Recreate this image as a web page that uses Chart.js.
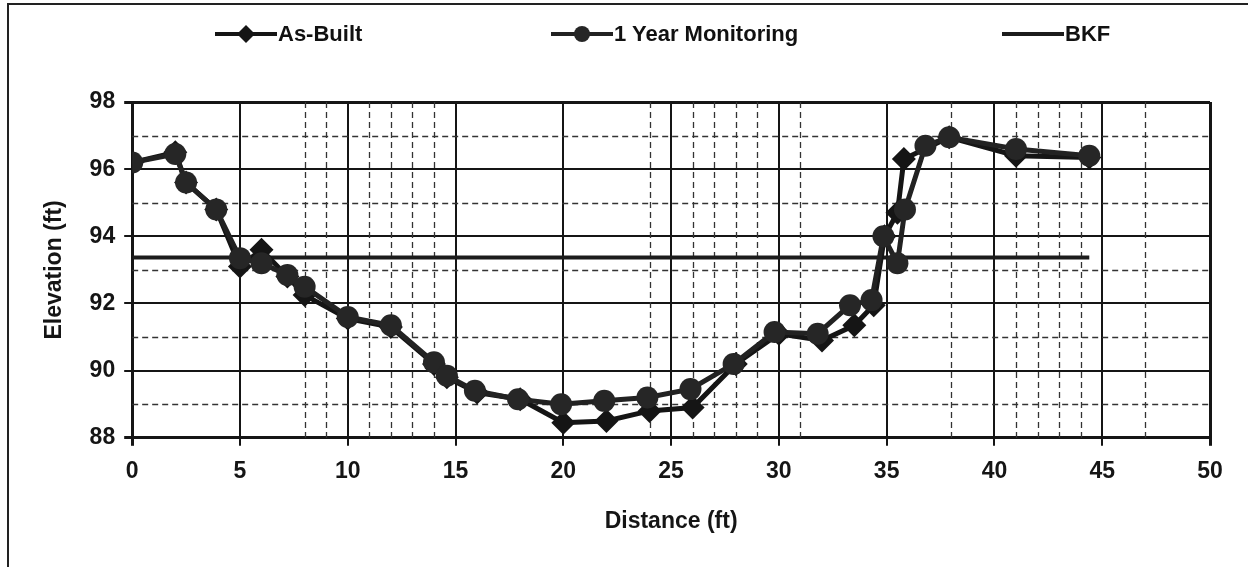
<!DOCTYPE html>
<html>
<head>
<meta charset="utf-8">
<script src="https://cdn.jsdelivr.net/npm/chart.js@4.4.0/dist/chart.umd.min.js"></script>
<style>
  body { margin: 0; background: #fff; overflow: hidden; }
  #frame { position: absolute; left: 7px; top: 3px; width: 1241px; height: 600px;
           border-left: 2px solid #222; border-top: 2px solid #222; }
  #chart { position: absolute; left: 0; top: 0; }
  .item { position: absolute; top: 16px; display: flex; align-items: center;
          font: bold 22px "Liberation Sans", Arial, sans-serif; color: #111; }
  .item svg { margin-right: 1px; }
</style>
</head>
<body>
<div id="frame">
  <canvas id="chart" width="1236" height="562"></canvas>
  <div id="legend"></div>
</div>
<script>
// cross-section survey, distance (ft) vs elevation (ft)
const asBuiltX = [0, 2, 2.5, 3.9, 5, 6, 7.2, 8, 10, 12, 14, 14.6, 16, 18, 20, 22, 24, 26, 28, 30, 32, 33.5, 34.4, 34.9, 35.5, 35.8, 37.9, 41, 44.4];
const asBuiltY = [96.2, 96.5, 95.6, 94.8, 93.1, 93.6, 92.8, 92.25, 91.55, 91.3, 90.2, 89.8, 89.35, 89.15, 88.45, 88.5, 88.8, 88.9, 90.2, 91.1, 90.9, 91.35, 91.95, 94.0, 94.7, 96.3, 96.95, 96.4, 96.35];

const monitorX = [0, 2, 2.5, 3.9, 5, 6, 7.2, 8, 10, 12, 14, 14.6, 15.9, 17.9, 19.9, 21.9, 23.9, 25.9, 27.9, 29.8, 31.8, 33.3, 34.3, 34.85, 35.5, 35.85, 36.8, 37.9, 41, 44.4];
const monitorY = [96.2, 96.45, 95.6, 94.8, 93.35, 93.2, 92.85, 92.5, 91.6, 91.35, 90.25, 89.85, 89.4, 89.15, 89.0, 89.1, 89.2, 89.45, 90.2, 91.15, 91.1, 91.95, 92.1, 94.0, 93.2, 94.8, 96.7, 96.95, 96.6, 96.4];

const bkfX = [0, 44.4];
const bkfY = [93.37, 93.37];

const xMin = 0, xMax = 50, xStep = 5;
const yMin = 88, yMax = 98, yStep = 2;
// dashed minor verticals that show in the scan
const minorGridX = [8, 9, 11, 12, 13, 14, 24, 26, 27, 28, 29, 31, 38, 41, 42, 43, 44, 47];

const FONT = '"Liberation Sans", Arial, sans-serif';
const INK = '#151515';

function pts(xs, ys) {
  return xs.map((x, i) => ({ x: x, y: ys[i] }));
}

const minorGrid = {
  id: 'minorGrid',
  beforeDatasetsDraw(chart) {
    const { ctx, chartArea: a, scales: { x, y } } = chart;
    ctx.save();
    ctx.strokeStyle = '#333';
    ctx.lineWidth = 1.3;
    ctx.setLineDash([6, 4]);
    ctx.beginPath();
    minorGridX.forEach(v => {
      const px = Math.round(x.getPixelForValue(v)) + 0.5;
      ctx.moveTo(px, a.top);
      ctx.lineTo(px, a.bottom);
    });
    for (let v = yMin + yStep / 2; v < yMax; v += yStep) {
      const py = Math.round(y.getPixelForValue(v)) + 0.5;
      ctx.moveTo(a.left, py);
      ctx.lineTo(a.right, py);
    }
    ctx.stroke();
    ctx.restore();
  }
};

const edgeWidth = (lo, hi) => c => (c.tick && (c.tick.value === lo || c.tick.value === hi)) ? 3 : 2;

const chart = new Chart(document.getElementById('chart'), {
  type: 'line',
  data: {
    datasets: [
      { label: 'As-Built', data: pts(asBuiltX, asBuiltY), borderColor: INK, backgroundColor: INK,
        borderWidth: 5, pointStyle: 'rectRot', pointRadius: 12, pointBorderWidth: 0, order: 2 },
      { label: '1 Year Monitoring', data: pts(monitorX, monitorY), borderColor: '#222', backgroundColor: '#262626',
        borderWidth: 5, pointStyle: 'circle', pointRadius: 11, pointBorderWidth: 0, order: 1 },
      { label: 'BKF', data: pts(bkfX, bkfY), borderColor: '#1c1c1c', borderWidth: 4, pointRadius: 0, order: 3 }
    ]
  },
  options: {
    responsive: false,
    animation: false,
    devicePixelRatio: 1,
    layout: { padding: { top: 97, left: 28, right: 35, bottom: 28 } },
    plugins: { legend: { display: false }, tooltip: { enabled: false } },
    scales: {
      x: {
        type: 'linear', min: xMin, max: xMax,
        ticks: { stepSize: xStep, padding: 12, color: INK, font: { family: FONT, size: 23, weight: 'bold' } },
        grid: { color: INK, lineWidth: edgeWidth(xMin, xMax), tickLength: 8, tickColor: INK },
        border: { color: INK, width: 3 },
        title: { display: true, text: 'Distance (ft)', color: INK, padding: { top: 10, bottom: 4 },
                 font: { family: FONT, size: 23, weight: 'bold' } }
      },
      y: {
        min: yMin, max: yMax,
        ticks: { stepSize: yStep, padding: 9, color: INK, font: { family: FONT, size: 23, weight: 'bold' } },
        grid: { color: INK, lineWidth: edgeWidth(yMin, yMax), tickLength: 8, tickColor: INK },
        border: { color: INK, width: 3 },
        title: { display: true, text: 'Elevation (ft)', color: INK, padding: { top: 4, bottom: 12 },
                 font: { family: FONT, size: 23, weight: 'bold' } }
      }
    }
  },
  plugins: [minorGrid]
});

// legend: line sample with the series marker, then the label
const legendLeft = [206, 542, 993];
const legend = document.getElementById('legend');
chart.data.datasets.forEach((ds, i) => {
  let mark = '';
  if (ds.pointStyle === 'rectRot') mark = '<polygon points="22,11 31,2 40,11 31,20" fill="' + ds.backgroundColor + '"/>';
  if (ds.pointStyle === 'circle') mark = '<circle cx="31" cy="11" r="8" fill="' + ds.backgroundColor + '"/>';
  const el = document.createElement('div');
  el.className = 'item';
  el.style.left = legendLeft[i] + 'px';
  el.innerHTML = '<svg width="62" height="22"><line x1="0" y1="11" x2="62" y2="11" stroke="' + ds.borderColor +
    '" stroke-width="4"/>' + mark + '</svg><span>' + ds.label + '</span>';
  legend.appendChild(el);
});
</script>
</body>
</html>
